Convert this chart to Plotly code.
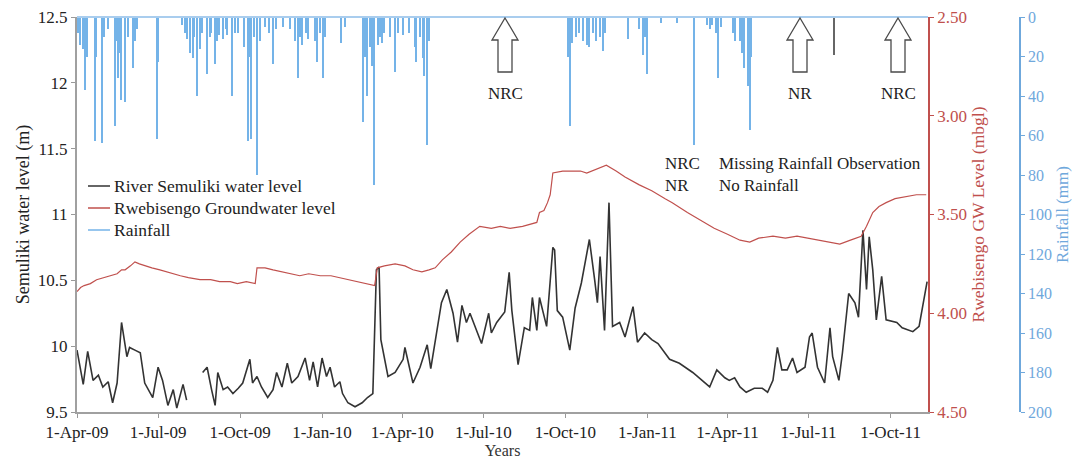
import pandas as pd
import plotly.graph_objects as go

START = pd.Timestamp("2009-04-01")

# River Semuliki water level (m): days since 1-Apr-2009, level (None = data gap)
river_days = [0, 7, 12, 18, 24, 29, 35, 40, 45, 50, 56, 59, 65, 71, 76, 85, 91, 96, 102, 108, 112, 119, 123,
              131,
              141, 146, 151, 155, 158, 164, 169, 175, 181, 186, 194, 197, 202, 207, 214, 220, 224, 230, 236,
              241, 248, 256, 261, 265, 270, 275, 280, 284, 289, 295, 298, 304, 312, 320, 326, 332, 336, 339,
              341, 349, 357, 366, 368, 377, 385, 393, 397, 404, 409, 415, 422, 427, 432, 437, 441, 454, 462,
              465, 471, 480, 485, 488, 495, 502, 508, 511, 516, 519, 527, 534, 536, 539, 545, 553, 559, 566,
              575, 581, 584, 587, 592, 597, 599, 601, 609, 615, 624, 629, 637, 645, 652, 659, 665, 676, 691,
              710, 718, 727, 732, 738, 744, 751, 760, 769, 775, 781, 786, 791, 797, 803, 808, 817, 822, 825,
              831, 839, 845, 848, 855, 859, 866, 873, 877, 882, 886, 889, 893, 897, 903, 908, 920, 926, 938,
              945, 954]
river_level = [9.97, 9.71, 9.96, 9.74, 9.78, 9.69, 9.73, 9.57, 9.72, 10.18, 9.92, 9.99, 9.97, 9.95, 9.72,
               9.61, 9.84, 9.74, 9.55, 9.67, 9.53, 9.71, 9.59,
               None,
               9.80, 9.84, 9.67, 9.55, 9.80, 9.67, 9.69, 9.64, 9.68, 9.72, 9.90, 9.72, 9.77, 9.69, 9.61, 9.67,
               9.80, 9.69, 9.87, 9.72, 9.77, 9.91, 9.74, 9.88, 9.69, 9.91, 9.77, 9.84, 9.69, 9.73, 9.64, 9.57,
               9.54, 9.57, 9.61, 9.64, 10.58, 10.60, 10.05, 9.77, 9.80, 9.90, 9.99, 9.72, 9.84, 10.01, 9.83,
               10.12, 10.33, 10.43, 10.25, 10.03, 10.31, 10.18, 10.25, 10.02, 10.25, 10.10, 10.18, 10.26,
               10.56, 10.27, 9.86, 10.14, 10.12, 10.37, 10.12, 10.37, 10.15, 10.75, 10.73, 10.27, 10.22,
               9.97, 10.29, 10.48, 10.81, 10.50, 10.33, 10.68, 10.12, 11.09, 10.67, 10.15, 10.18, 10.07,
               10.30, 10.03, 10.10, 10.05, 10.02, 9.95, 9.90, 9.87, 9.80, 9.69, 9.82, 9.76, 9.74, 9.76, 9.69,
               9.65, 9.68, 9.68, 9.65, 9.74, 9.99, 9.82, 9.82, 9.91, 9.80, 9.84, 10.07, 10.10, 9.84, 9.72,
               10.14, 9.92, 9.74, 9.95, 10.40, 10.33, 10.22, 10.88, 10.43, 10.83, 10.58, 10.20, 10.53, 10.20,
               10.18, 10.14, 10.11, 10.15, 10.49]

# Rwebisengo groundwater level (mbgl)
gw_days = [0, 4, 8, 15, 22, 30, 37, 45, 50, 54, 60, 65, 70, 76, 84, 93, 100, 108, 116, 125, 138, 150, 160,
           172, 180, 190, 200, 202, 206, 211, 220, 230, 239, 250, 260, 273, 285, 295, 305, 317, 325, 334, 337,
           345, 357, 368, 377, 387, 395, 402, 410, 420, 430, 440, 452, 465, 475, 486, 500, 516, 519, 524, 528,
           531, 534, 545, 556, 565, 572, 582, 594, 605, 615, 631, 645, 660, 668, 685, 700, 715, 730, 744, 755,
           765, 781, 795, 808, 819, 830, 845, 856, 868, 880, 886, 893, 900, 908, 918, 931, 942, 953]
gw_level = [3.89, 3.87, 3.86, 3.85, 3.83, 3.82, 3.81, 3.80, 3.78, 3.78, 3.76, 3.74, 3.75, 3.76, 3.77, 3.78,
            3.79, 3.80, 3.81, 3.82, 3.83, 3.83, 3.84, 3.84, 3.85, 3.84, 3.85, 3.77, 3.77, 3.77, 3.78, 3.79,
            3.80, 3.81, 3.80, 3.81, 3.81, 3.82, 3.83, 3.84, 3.85, 3.86, 3.77, 3.76, 3.75, 3.76, 3.78, 3.79,
            3.78, 3.77, 3.73, 3.69, 3.64, 3.60, 3.56, 3.57, 3.56, 3.57, 3.56, 3.54, 3.49, 3.48, 3.44, 3.40,
            3.29, 3.28, 3.28, 3.28, 3.29, 3.27, 3.25, 3.28, 3.31, 3.35, 3.38, 3.42, 3.44, 3.49, 3.53, 3.57,
            3.60, 3.63, 3.64, 3.62, 3.61, 3.62, 3.61, 3.62, 3.63, 3.64, 3.65, 3.63, 3.61, 3.56, 3.49, 3.46,
            3.44, 3.42, 3.41, 3.40, 3.40]

# Daily rainfall (mm)
rain_days = [1, 3, 7, 9, 11, 20, 22, 28, 30, 35, 43, 45, 46, 48, 50, 54, 57, 63, 65, 67, 90, 91, 118, 121,
             124, 127, 130, 132, 135, 138, 141, 146, 149, 151, 155, 157, 160, 164, 167, 169, 174, 177, 181,
             188, 192, 194, 196, 199, 202, 205, 211, 216, 220, 223, 231, 239, 245, 248, 250, 253, 257, 259,
             267, 269, 273, 276, 279, 297, 301, 321, 323, 326, 329, 331, 334, 338, 340, 342, 345, 351, 357,
             360, 366, 373, 379, 381, 385, 388, 390, 393, 395, 551, 553, 556, 560, 564, 568, 572, 575, 579,
             583, 587, 590, 593, 618, 631, 635, 638, 640, 656, 673, 693, 707, 710, 713, 717, 719, 723, 736,
             739, 744, 746, 749, 753, 755, 757]
rain_mm = [8, 14, 16, 37, 20, 63, 20, 64, 10, 6, 55, 12, 31, 18, 42, 43, 10, 26, 12, 6, 62, 23, 4, 8,
           11, 18, 21, 10, 40, 16, 8, 29, 10, 8, 24, 12, 9, 11, 6, 9, 40, 8, 8,
           15, 63, 20, 62, 10, 80, 12, 5, 8, 24, 6, 5, 6, 12, 31, 10, 14, 8, 11,
           12, 23, 8, 31, 10, 13, 5, 53, 20, 40, 15, 25, 85, 14, 10, 13, 8, 10, 28,
           8, 9, 8, 15, 23, 10, 21, 30, 65, 12, 20, 55, 13, 10, 8, 12, 14, 15, 8,
           12, 10, 17, 8, 11, 6, 19, 10, 29, 3, 3, 65, 4, 6, 4, 8, 31, 5, 8,
           12, 12, 18, 26, 35, 57, 20]

# Dark marker bar near Aug-2011 on the rainfall axis
marker_days = [850]
marker_mm = [19]

tick_dates = ["2009-04-01", "2009-07-01", "2009-10-01", "2010-01-01", "2010-04-01", "2010-07-01",
              "2010-10-01", "2011-01-01", "2011-04-01", "2011-07-01", "2011-10-01"]
tick_text = ["1-Apr-09", "1-Jul-09", "1-Oct-09", "1-Jan-10", "1-Apr-10", "1-Jul-10",
             "1-Oct-10", "1-Jan-11", "1-Apr-11", "1-Jul-11", "1-Oct-11"]
left_ticks = [9.5, 10, 10.5, 11, 11.5, 12, 12.5]
left_text = ["9.5", "10", "10.5", "11", "11.5", "12", "12.5"]
gw_ticks = [2.5, 3.0, 3.5, 4.0, 4.5]
gw_text = ["2.50", "3.00", "3.50", "4.00", "4.50"]
rain_ticks = list(range(0, 201, 20))


def to_dates(days):
    return [START + pd.Timedelta(days=d) for d in days]


FONT = "Liberation Serif"
RED = "#c0504d"
BLUE = "#6fa8dc"
RAIN = "#74b3e8"
TXT = "#222222"

# the page body adds an 8px offset; figure is sized to fill the rest of the window
OX, OY = 8, 8
W, H = 1080 - OX, 463 - OY
L, R, T, B = 77 - OX, 60, 17 - OY, 51
plot_w = W - L - R
plot_h = H - T - B
x_end = (928 - 77) / plot_w


def px(xp):
    return (xp - 77) / plot_w


def py(yp):
    return 1 - (yp - 17) / plot_h


fig = go.Figure()

fig.add_trace(go.Bar(x=to_dates(rain_days), y=rain_mm, yaxis="y3", marker_color=RAIN,
                     marker_line_width=0, width=1.5 * 86400000, name="Rainfall", showlegend=False))
fig.add_trace(go.Bar(x=to_dates(marker_days), y=marker_mm, yaxis="y3", marker_color="#666666",
                     marker_line_width=0, width=1.6 * 86400000, showlegend=False))
fig.add_trace(go.Scatter(x=to_dates(gw_days), y=gw_level, yaxis="y2", mode="lines",
                         line=dict(color=RED, width=1.2), name="Rwebisengo Groundwater level",
                         showlegend=False))
fig.add_trace(go.Scatter(x=to_dates(river_days), y=river_level, mode="lines", connectgaps=False,
                         line=dict(color="#333333", width=1.6), name="River Semuliki water level",
                         showlegend=False))

fig.update_layout(
    width=W, height=H,
    margin=dict(l=L, r=R, t=T, b=B),
    paper_bgcolor="white", plot_bgcolor="white",
    font=dict(family=FONT, size=17, color=TXT),
    bargap=0,
    xaxis=dict(type="date", domain=[0, x_end], range=["2009-04-01", "2011-11-12"], automargin=False,
               tickmode="array", tickvals=tick_dates, ticktext=tick_text, ticklabeloverflow="allow",
               ticks="outside", ticklen=4, tickcolor="#999999",
               showline=True, linecolor="#a0a0a0", linewidth=2, showgrid=False, zeroline=False,
               tickfont=dict(family=FONT, size=17, color=TXT),
               title=dict(text="Years", font=dict(family=FONT, size=16, color="#333333"), standoff=0)),
    yaxis=dict(range=[9.5, 12.5], tickmode="array", tickvals=left_ticks, ticktext=left_text, automargin=False,
               ticklabeloverflow="allow",
               ticks="outside", ticklen=4, tickcolor="#999999",
               showline=True, linecolor="#a0a0a0", linewidth=2, showgrid=False, zeroline=False,
               tickfont=dict(family=FONT, size=17, color=TXT),
               title=dict(text="Semuliki water level (m)", font=dict(family=FONT, size=18, color=TXT),
                          standoff=4)),
    yaxis2=dict(range=[4.5, 2.5], overlaying="y", side="right", anchor="x", automargin=False,
                tickmode="array", tickvals=gw_ticks, ticktext=gw_text, ticklabeloverflow="allow",
                ticks="outside", ticklen=4, tickcolor=RED,
                showline=True, linecolor=RED, linewidth=1.5, showgrid=False, zeroline=False,
                tickfont=dict(family=FONT, size=17, color=RED),
                title=dict(text="Rwebisengo GW Level (mbgl)", font=dict(family=FONT, size=17.5, color=RED),
                           standoff=6)),
    yaxis3=dict(range=[200, 0], overlaying="y", side="right", anchor="free", position=1.0, automargin=False,
                tickmode="array", tickvals=rain_ticks, ticklabeloverflow="allow",
                ticks="outside", ticklen=4, tickcolor=BLUE,
                showline=True, linecolor=BLUE, linewidth=1.5, showgrid=False, zeroline=False,
                tickfont=dict(family=FONT, size=16, color=BLUE),
                title=dict(text="Rainfall (mm)", font=dict(family=FONT, size=17, color=BLUE), standoff=4)),
    showlegend=False,
)

shapes = []
# top rainfall baseline
shapes.append(dict(type="line", xref="paper", yref="paper", x0=0, x1=x_end, y0=1, y1=1,
                   line=dict(color="#a9cdee", width=2)))
# hollow up-arrows marking NRC / NR periods
arrow_path = "M 0 0 L 13 -22 L 7 -22 L 7 -54 L -7 -54 L -7 -22 L -13 -22 Z"
for ax_px in (505, 800, 898):
    shapes.append(dict(type="path", xref="paper", yref="paper", xsizemode="pixel", ysizemode="pixel",
                       xanchor=px(ax_px), yanchor=py(18), path=arrow_path,
                       line=dict(color="#4a4a4a", width=1.3), fillcolor="white"))
# manual legend samples
leg_rows = [(186, "#333333", "River Semuliki water level"),
            (208, RED, "Rwebisengo Groundwater level"),
            (230, RAIN, "Rainfall")]
annotations = []
for yy, col, txt in leg_rows:
    shapes.append(dict(type="line", xref="paper", yref="paper", x0=px(88), x1=px(110),
                       y0=py(yy), y1=py(yy), line=dict(color=col, width=1.5)))
    annotations.append(dict(xref="paper", yref="paper", x=px(112), y=py(yy), text=txt, showarrow=False,
                            xanchor="left", yanchor="middle", font=dict(family=FONT, size=17.5, color=TXT)))

for ax_px, txt in ((505, "NRC"), (800, "NR"), (898, "NRC")):
    annotations.append(dict(xref="paper", yref="paper", x=px(ax_px), y=py(93), text=txt, showarrow=False,
                            xanchor="center", yanchor="middle", font=dict(family=FONT, size=17, color=TXT)))

for yy, abbr, desc in ((163, "NRC", "Missing Rainfall Observation"), (185, "NR", "No Rainfall")):
    annotations.append(dict(xref="paper", yref="paper", x=px(663), y=py(yy), text=abbr, showarrow=False,
                            xanchor="left", yanchor="middle", font=dict(family=FONT, size=17, color=TXT)))
    annotations.append(dict(xref="paper", yref="paper", x=px(717), y=py(yy), text=desc, showarrow=False,
                            xanchor="left", yanchor="middle", font=dict(family=FONT, size=17, color=TXT)))

fig.update_layout(shapes=shapes, annotations=annotations)

fig.write_html("out.html")
